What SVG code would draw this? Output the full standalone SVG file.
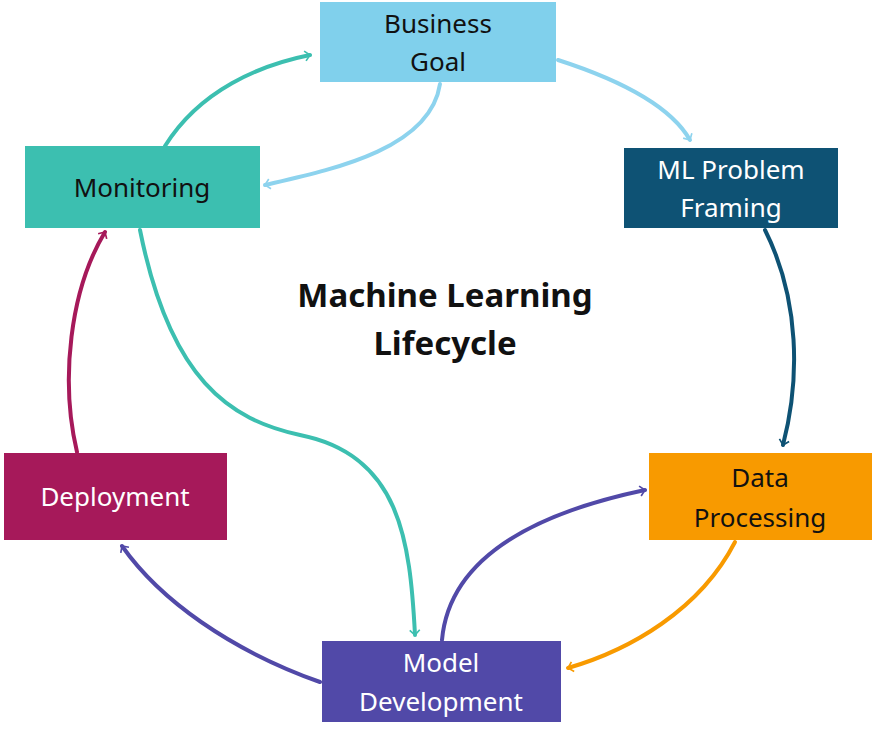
<svg xmlns="http://www.w3.org/2000/svg" width="879" height="731" viewBox="0 0 879 731">
<style>
.n{font-family:"Noto Sans","Open Sans",sans-serif;font-size:26px;text-anchor:middle}
.d{fill:#111}.w{fill:#fff}
.c{fill:none;stroke-width:4;stroke-linecap:round}
</style>
<defs>
<marker id="mT" viewBox="0 0 12 12" refX="10" refY="6" markerWidth="5" markerHeight="5" orient="auto" markerUnits="userSpaceOnUse" overflow="visible"><path d="M-2,-6 L10,6 L-2,18" fill="none" stroke="#3cbfb0" stroke-width="4"/></marker>
<marker id="mL" viewBox="0 0 12 12" refX="10" refY="6" markerWidth="5" markerHeight="5" orient="auto" markerUnits="userSpaceOnUse" overflow="visible"><path d="M-2,-6 L10,6 L-2,18" fill="none" stroke="#8dd3ee" stroke-width="4"/></marker>
<marker id="mD" viewBox="0 0 12 12" refX="10" refY="6" markerWidth="5" markerHeight="5" orient="auto" markerUnits="userSpaceOnUse" overflow="visible"><path d="M-2,-6 L10,6 L-2,18" fill="none" stroke="#0e5274" stroke-width="4"/></marker>
<marker id="mO" viewBox="0 0 12 12" refX="10" refY="6" markerWidth="5" markerHeight="5" orient="auto" markerUnits="userSpaceOnUse" overflow="visible"><path d="M-2,-6 L10,6 L-2,18" fill="none" stroke="#f89a00" stroke-width="4"/></marker>
<marker id="mP" viewBox="0 0 12 12" refX="10" refY="6" markerWidth="5" markerHeight="5" orient="auto" markerUnits="userSpaceOnUse" overflow="visible"><path d="M-2,-6 L10,6 L-2,18" fill="none" stroke="#5149a8" stroke-width="4"/></marker>
<marker id="mM" viewBox="0 0 12 12" refX="10" refY="6" markerWidth="5" markerHeight="5" orient="auto" markerUnits="userSpaceOnUse" overflow="visible"><path d="M-2,-6 L10,6 L-2,18" fill="none" stroke="#a6195a" stroke-width="4"/></marker>
</defs>
<rect width="879" height="731" fill="#fff"/>
<g id="connectors">
<path class="c" stroke="#3cbfb0" marker-end="url(#mT)" d="M165,146 C200,90 260,65 310,55"/>
<path class="c" stroke="#8dd3ee" marker-end="url(#mL)" d="M440,84 C430,150 330,170 265,185"/>
<path class="c" stroke="#8dd3ee" marker-end="url(#mL)" d="M558,60 C620,80 670,105 690,140"/>
<path class="c" stroke="#0e5274" marker-end="url(#mD)" d="M765,230 C800,300 800,380 783,445"/>
<path class="c" stroke="#f89a00" marker-end="url(#mO)" d="M735,542 C700,610 630,650 568,668"/>
<path class="c" stroke="#5149a8" marker-end="url(#mP)" d="M442,640 C450,550 550,510 645,490"/>
<path class="c" stroke="#5149a8" marker-end="url(#mP)" d="M320,682 C230,650 160,600 122,546"/>
<path class="c" stroke="#a6195a" marker-end="url(#mM)" d="M77,452 C60,380 70,290 105,232"/>
<path class="c" stroke="#3cbfb0" marker-end="url(#mT)" d="M140,230 C170,380 230,420 300,435 C400,455 410,540 415,635"/>
</g>
<g id="business-goal"><rect x="320" y="2" width="236" height="80" fill="#80d0ec"/><text class="n d" x="438" y="33">Business</text><text class="n d" x="438" y="71">Goal</text></g>
<g id="ml-problem-framing"><rect x="624" y="148" width="214" height="80" fill="#0e5274"/><text class="n w" x="731" y="179">ML Problem</text><text class="n w" x="731" y="217">Framing</text></g>
<g id="monitoring"><rect x="25" y="146" width="235" height="82" fill="#3cbfb0"/><text class="n d" x="142" y="197">Monitoring</text></g>
<g id="data-processing"><rect x="649" y="453" width="223" height="87" fill="#f89a00"/><text class="n d" x="760" y="487">Data</text><text class="n d" x="760" y="527">Processing</text></g>
<g id="deployment"><rect x="4" y="453" width="223" height="87" fill="#a6195a"/><text class="n w" x="115" y="506">Deployment</text></g>
<g id="model-development"><rect x="322" y="641" width="239" height="81" fill="#5149a8"/><text class="n w" x="441" y="672">Model</text><text class="n w" x="441" y="711">Development</text></g>
<g id="title"><text x="445" y="307" style="font-family:'Noto Sans','Open Sans',sans-serif;font-size:33px;font-weight:bold;text-anchor:middle" fill="#111">Machine Learning</text><text x="445" y="355" style="font-family:'Noto Sans','Open Sans',sans-serif;font-size:33px;font-weight:bold;text-anchor:middle" fill="#111">Lifecycle</text></g>
</svg>
